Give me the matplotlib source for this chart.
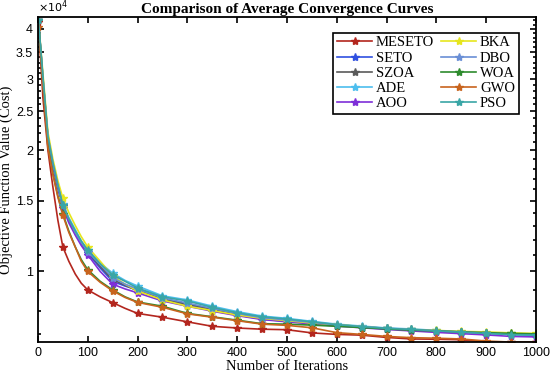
import numpy as np
import matplotlib
matplotlib.use("Agg")
import matplotlib.pyplot as plt
from matplotlib.ticker import FixedLocator, NullFormatter

iters = [1, 10, 20, 30, 40, 50, 62, 75, 87, 100, 125, 150, 175, 200, 250, 300, 350, 400,
         450, 500, 550, 600, 650, 700, 750, 800, 850, 900, 950, 1000]

# values in units of 1e4
meseto = [4.15, 2.70, 2.00, 1.62, 1.34, 1.15, 1.06, 0.985, 0.935, 0.90, 0.865, 0.837, 0.81, 0.787, 0.77, 0.75,
          0.731, 0.724, 0.719, 0.717, 0.704, 0.698, 0.695, 0.686, 0.680, 0.679, 0.677, 0.669, 0.668, 0.668]
seto = [4.20, 3.00, 2.15, 1.84, 1.62, 1.46, 1.34, 1.24, 1.17, 1.11, 1.02, 0.945, 0.92, 0.90, 0.855, 0.825,
        0.80, 0.78, 0.762, 0.752, 0.744, 0.735, 0.728, 0.721, 0.716, 0.711, 0.707, 0.703, 0.698, 0.696]
szoa = [4.20, 3.00, 2.15, 1.85, 1.63, 1.45, 1.34, 1.25, 1.18, 1.12, 1.03, 0.955, 0.925, 0.895, 0.855, 0.83,
        0.805, 0.782, 0.764, 0.754, 0.745, 0.736, 0.729, 0.722, 0.717, 0.712, 0.708, 0.704, 0.699, 0.697]
ade = [4.20, 3.05, 2.18, 1.87, 1.65, 1.47, 1.36, 1.27, 1.19, 1.13, 1.05, 0.99, 0.95, 0.92, 0.87, 0.85,
       0.82, 0.795, 0.775, 0.765, 0.752, 0.740, 0.732, 0.724, 0.720, 0.714, 0.708, 0.703, 0.697, 0.695]
aoo = [4.20, 3.00, 2.13, 1.83, 1.61, 1.44, 1.32, 1.23, 1.16, 1.10, 1.00, 0.93, 0.905, 0.885, 0.845, 0.82,
       0.797, 0.777, 0.76, 0.75, 0.741, 0.732, 0.725, 0.718, 0.712, 0.706, 0.701, 0.696, 0.690, 0.688]
bka = [4.20, 3.10, 2.22, 1.90, 1.68, 1.52, 1.40, 1.30, 1.22, 1.15, 1.06, 0.975, 0.93, 0.895, 0.85, 0.82,
       0.80, 0.78, 0.765, 0.755, 0.745, 0.738, 0.730, 0.722, 0.718, 0.714, 0.710, 0.708, 0.704, 0.702]
dbo = [4.20, 3.02, 2.16, 1.86, 1.64, 1.46, 1.35, 1.25, 1.18, 1.12, 1.04, 0.965, 0.93, 0.905, 0.86, 0.835,
       0.81, 0.787, 0.768, 0.758, 0.748, 0.737, 0.730, 0.723, 0.718, 0.713, 0.708, 0.704, 0.699, 0.697]
woa = [4.20, 2.95, 2.05, 1.75, 1.54, 1.39, 1.26, 1.15, 1.07, 1.01, 0.945, 0.90, 0.865, 0.84, 0.82, 0.787,
       0.772, 0.757, 0.742, 0.740, 0.736, 0.731, 0.726, 0.720, 0.715, 0.712, 0.708, 0.705, 0.702, 0.700]
gwo = [4.05, 2.90, 2.03, 1.74, 1.53, 1.38, 1.25, 1.15, 1.06, 1.00, 0.94, 0.895, 0.862, 0.838, 0.815, 0.785,
       0.770, 0.755, 0.740, 0.735, 0.725, 0.705, 0.698, 0.690, 0.685, 0.683, 0.680, 0.672, 0.668, 0.668]
pso = [4.20, 3.03, 2.17, 1.86, 1.64, 1.46, 1.35, 1.26, 1.19, 1.13, 1.045, 0.98, 0.945, 0.91, 0.865, 0.845,
       0.815, 0.79, 0.772, 0.762, 0.750, 0.738, 0.730, 0.722, 0.718, 0.712, 0.707, 0.702, 0.697, 0.695]

names = ['MESETO', 'SETO', 'SZOA', 'ADE', 'AOO', 'BKA', 'DBO', 'WOA', 'GWO', 'PSO']
series = [meseto, seto, szoa, ade, aoo, bka, dbo, woa, gwo, pso]
colors = ['#B3261E', '#3050E0', '#5A5A5A', '#4DBEEE', '#7E2FD8',
          '#E6E61E', '#6A8FD6', '#2E8B2E', '#C8641E', '#3AA6A6']

x = np.array(iters)
marks = [i for i, it in enumerate(iters) if it == 1 or it % 50 == 0]

fig = plt.figure(figsize=(5.5, 3.78), dpi=100)
ax = fig.add_axes([0.069, 0.095, 0.9055, 0.86])

for name, vals, c in zip(names, series, colors):
    ax.plot(x, np.array(vals) * 1e4, color=c, lw=1.2, marker='*', markersize=6,
            markevery=marks, label=name)

ax.set_yscale('log')
ax.set_xlim(0, 1000)
ax.set_ylim(6680, 42800)

ax.set_xticks(range(0, 1001, 100))
ax.yaxis.set_major_locator(FixedLocator([10000, 15000, 20000, 25000, 30000, 35000, 40000]))
ax.yaxis.set_minor_locator(FixedLocator(list(range(7000, 43000, 1000))))
ax.yaxis.set_major_formatter(plt.FuncFormatter(lambda v, p: ('%g' % (v / 1e4))))
ax.yaxis.set_minor_formatter(NullFormatter())
ax.xaxis.set_minor_locator(FixedLocator([]))

for lab in ax.get_xticklabels() + ax.get_yticklabels():
    lab.set_fontfamily('Liberation Sans')
ax.tick_params(which='both', direction='in', top=True, right=True, labelsize=9, width=1.2)
ax.tick_params(which='major', length=4)
ax.tick_params(which='minor', length=2.5)
for s in ax.spines.values():
    s.set_linewidth(1.3)

ax.text(0.0, 1.005, r'$\times10^4$', transform=ax.transAxes, fontsize=8,
        family='Liberation Sans', ha='left', va='bottom')

ax.set_title('Comparison of Average Convergence Curves', family='Liberation Serif',
             fontweight='bold', fontsize=11, pad=3)
ax.set_xlabel('Number of Iterations', family='Liberation Serif', fontsize=10.5, labelpad=1)
ax.set_ylabel('Objective Function Value (Cost)', family='Liberation Serif', fontsize=10.5, labelpad=2)

leg = ax.legend(ncol=2, loc='upper right', bbox_to_anchor=(0.965, 0.952),
                prop={'family': 'Liberation Serif', 'size': 10.5}, fancybox=False,
                edgecolor='black', framealpha=1, handlelength=2.4, columnspacing=0.5,
                labelspacing=0.14, handletextpad=0.25, borderpad=0.25, borderaxespad=0)
leg.get_frame().set_linewidth(1.2)

fig.savefig('out.png', dpi=100)
